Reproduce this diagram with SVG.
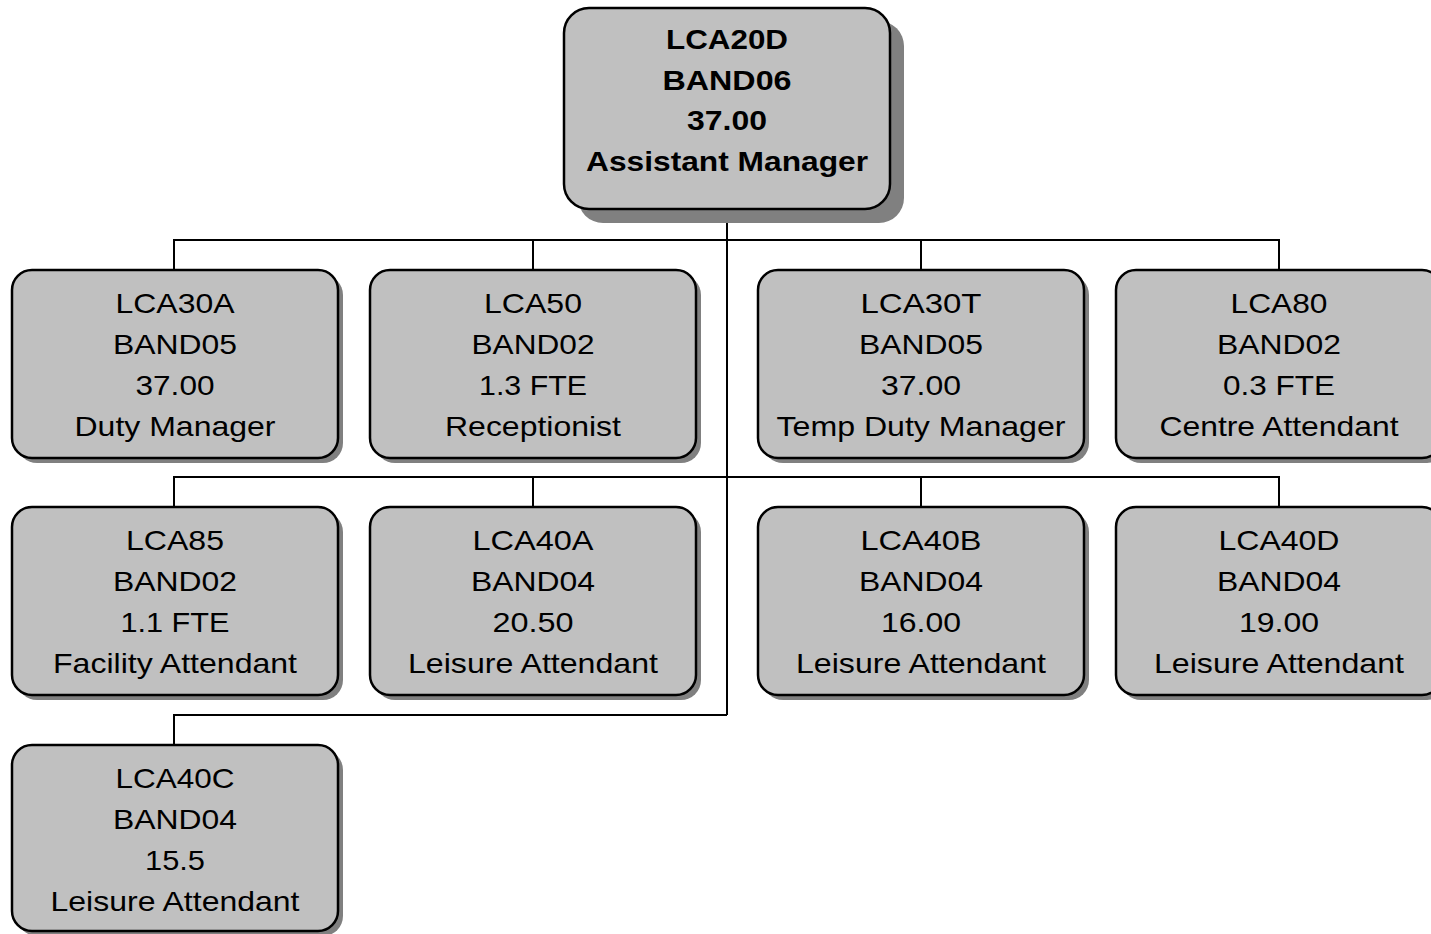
<svg xmlns="http://www.w3.org/2000/svg" width="1431" height="934" viewBox="0 0 1431 934">
<style>
.sh{fill:#808080}
.bx{fill:#c0c0c0;stroke:#000;stroke-width:2.5}
.t{font-family:"Liberation Sans",Arial,sans-serif;font-size:28px;text-anchor:middle;fill:#000}
.b{font-weight:bold}
.c{fill:none;stroke:#000;stroke-width:2}
</style>
<rect width="1431" height="934" fill="#fff"/>
<g id="connectors">
<path class="c" d="M727 209V715M174 270V240H1279V270M533 240V270M921 240V270M174 507V477H1279V507M533 477V507M921 477V507M174 745V715H727"/>
</g>
<g id="n-lca20d">
<rect class="sh" x="578" y="21" width="326" height="202" rx="25"/>
<rect class="bx" x="564" y="8" width="326" height="201" rx="25"/>
<text class="t b" x="727" y="49" textLength="122" lengthAdjust="spacingAndGlyphs">LCA20D</text>
<text class="t b" x="727" y="90" textLength="129" lengthAdjust="spacingAndGlyphs">BAND06</text>
<text class="t b" x="727" y="130" textLength="80" lengthAdjust="spacingAndGlyphs">37.00</text>
<text class="t b" x="727" y="171" textLength="282" lengthAdjust="spacingAndGlyphs">Assistant Manager</text>
</g>
<g id="n-lca30a">
<rect class="sh" x="17" y="275" width="326" height="188" rx="20"/>
<rect class="bx" x="12" y="270" width="326" height="188" rx="20"/>
<text class="t" x="175" y="313" textLength="119" lengthAdjust="spacingAndGlyphs">LCA30A</text>
<text class="t" x="175" y="354" textLength="124" lengthAdjust="spacingAndGlyphs">BAND05</text>
<text class="t" x="175" y="395" textLength="79" lengthAdjust="spacingAndGlyphs">37.00</text>
<text class="t" x="175" y="436" textLength="201" lengthAdjust="spacingAndGlyphs">Duty Manager</text>
</g>
<g id="n-lca50">
<rect class="sh" x="375" y="275" width="326" height="188" rx="20"/>
<rect class="bx" x="370" y="270" width="326" height="188" rx="20"/>
<text class="t" x="533" y="313" textLength="98" lengthAdjust="spacingAndGlyphs">LCA50</text>
<text class="t" x="533" y="354" textLength="123" lengthAdjust="spacingAndGlyphs">BAND02</text>
<text class="t" x="533" y="395" textLength="108" lengthAdjust="spacingAndGlyphs">1.3 FTE</text>
<text class="t" x="533" y="436" textLength="176" lengthAdjust="spacingAndGlyphs">Receptionist</text>
</g>
<g id="n-lca30t">
<rect class="sh" x="763" y="275" width="326" height="188" rx="20"/>
<rect class="bx" x="758" y="270" width="326" height="188" rx="20"/>
<text class="t" x="921" y="313" textLength="121" lengthAdjust="spacingAndGlyphs">LCA30T</text>
<text class="t" x="921" y="354" textLength="124" lengthAdjust="spacingAndGlyphs">BAND05</text>
<text class="t" x="921" y="395" textLength="80" lengthAdjust="spacingAndGlyphs">37.00</text>
<text class="t" x="921" y="436" textLength="289" lengthAdjust="spacingAndGlyphs">Temp Duty Manager</text>
</g>
<g id="n-lca80">
<rect class="sh" x="1121" y="275" width="326" height="188" rx="20"/>
<rect class="bx" x="1116" y="270" width="326" height="188" rx="20"/>
<text class="t" x="1279" y="313" textLength="97" lengthAdjust="spacingAndGlyphs">LCA80</text>
<text class="t" x="1279" y="354" textLength="124" lengthAdjust="spacingAndGlyphs">BAND02</text>
<text class="t" x="1279" y="395" textLength="112" lengthAdjust="spacingAndGlyphs">0.3 FTE</text>
<text class="t" x="1279" y="436" textLength="239" lengthAdjust="spacingAndGlyphs">Centre Attendant</text>
</g>
<g id="n-lca85">
<rect class="sh" x="17" y="512" width="326" height="188" rx="20"/>
<rect class="bx" x="12" y="507" width="326" height="188" rx="20"/>
<text class="t" x="175" y="550" textLength="98" lengthAdjust="spacingAndGlyphs">LCA85</text>
<text class="t" x="175" y="591" textLength="124" lengthAdjust="spacingAndGlyphs">BAND02</text>
<text class="t" x="175" y="632" textLength="109" lengthAdjust="spacingAndGlyphs">1.1 FTE</text>
<text class="t" x="175" y="673" textLength="244" lengthAdjust="spacingAndGlyphs">Facility Attendant</text>
</g>
<g id="n-lca40a">
<rect class="sh" x="375" y="512" width="326" height="188" rx="20"/>
<rect class="bx" x="370" y="507" width="326" height="188" rx="20"/>
<text class="t" x="533" y="550" textLength="121" lengthAdjust="spacingAndGlyphs">LCA40A</text>
<text class="t" x="533" y="591" textLength="124" lengthAdjust="spacingAndGlyphs">BAND04</text>
<text class="t" x="533" y="632" textLength="81" lengthAdjust="spacingAndGlyphs">20.50</text>
<text class="t" x="533" y="673" textLength="250" lengthAdjust="spacingAndGlyphs">Leisure Attendant</text>
</g>
<g id="n-lca40b">
<rect class="sh" x="763" y="512" width="326" height="188" rx="20"/>
<rect class="bx" x="758" y="507" width="326" height="188" rx="20"/>
<text class="t" x="921" y="550" textLength="121" lengthAdjust="spacingAndGlyphs">LCA40B</text>
<text class="t" x="921" y="591" textLength="124" lengthAdjust="spacingAndGlyphs">BAND04</text>
<text class="t" x="921" y="632" textLength="80" lengthAdjust="spacingAndGlyphs">16.00</text>
<text class="t" x="921" y="673" textLength="250" lengthAdjust="spacingAndGlyphs">Leisure Attendant</text>
</g>
<g id="n-lca40d">
<rect class="sh" x="1121" y="512" width="326" height="188" rx="20"/>
<rect class="bx" x="1116" y="507" width="326" height="188" rx="20"/>
<text class="t" x="1279" y="550" textLength="121" lengthAdjust="spacingAndGlyphs">LCA40D</text>
<text class="t" x="1279" y="591" textLength="124" lengthAdjust="spacingAndGlyphs">BAND04</text>
<text class="t" x="1279" y="632" textLength="80" lengthAdjust="spacingAndGlyphs">19.00</text>
<text class="t" x="1279" y="673" textLength="250" lengthAdjust="spacingAndGlyphs">Leisure Attendant</text>
</g>
<g id="n-lca40c">
<rect class="sh" x="17" y="750" width="326" height="186" rx="20"/>
<rect class="bx" x="12" y="745" width="326" height="186" rx="20"/>
<text class="t" x="175" y="788" textLength="119" lengthAdjust="spacingAndGlyphs">LCA40C</text>
<text class="t" x="175" y="829" textLength="124" lengthAdjust="spacingAndGlyphs">BAND04</text>
<text class="t" x="175" y="870" textLength="60" lengthAdjust="spacingAndGlyphs">15.5</text>
<text class="t" x="175" y="911" textLength="249" lengthAdjust="spacingAndGlyphs">Leisure Attendant</text>
</g>
</svg>
